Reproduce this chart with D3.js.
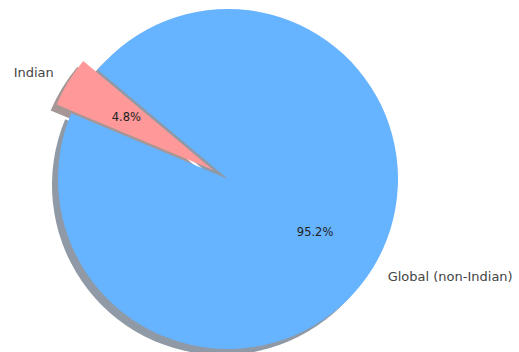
<!DOCTYPE html>
<html><head><meta charset="utf-8">
<script src="https://cdn.jsdelivr.net/npm/d3@7"></script>
<style>html,body{margin:0;padding:0;background:#fff;}</style>
</head><body>
<svg id="c" width="519" height="352"></svg>
<script>
const categories = ["Indian", "Global (non-Indian)"];
const values = [4.8, 95.2];
const colors = ["#ff9999", "#66b3ff"];
const explode = [0.1, 0];
const startAngleDeg = 140; // matplotlib-style, counter-clockwise from +x

const W = 519, H = 352;
const cx = 228, cy = 179, R = 170;
const svg = d3.select("#c");
const g = svg.append("g").attr("transform", `translate(${cx},${cy})`);

const toRad = d => d * Math.PI / 180;
const a0 = toRad(90 - startAngleDeg);
const pie = d3.pie().sort(null).value(d => d.v)
  .startAngle(a0).endAngle(a0 - 2 * Math.PI);
const data = pie(categories.map((c, i) => ({c, v: values[i], i})));
const arc = d3.arc().innerRadius(0).outerRadius(R);

const dir = d => { const m = (d.startAngle + d.endAngle) / 2; return [Math.sin(m), -Math.cos(m)]; };
const off = d => { const [x, y] = dir(d); const e = explode[d.data.i] * R; return [x * e, y * e]; };

// shadows
const shadowCol = c => { const k = d3.rgb(c); return d3.rgb(k.r * 0.3, k.g * 0.3, k.b * 0.3); };
g.selectAll("path.sh").data(data).join("path").attr("class", "sh")
  .attr("d", arc)
  .attr("fill", d => shadowCol(colors[d.data.i]))
  .attr("fill-opacity", 0.5)
  .attr("transform", d => { const [x, y] = off(d); return `translate(${x - 6},${y + 6})`; });

g.selectAll("path.w").data(data).join("path").attr("class", "w")
  .attr("d", arc)
  .attr("fill", d => colors[d.data.i])
  .attr("transform", d => { const [x, y] = off(d); return `translate(${x},${y})`; });

const fmt = d3.format(".1f");
g.selectAll("text.pct").data(data).join("text").attr("class", "pct")
  .attr("x", d => off(d)[0] + dir(d)[0] * 0.6 * R)
  .attr("y", d => off(d)[1] + dir(d)[1] * 0.6 * R)
  .attr("text-anchor", "middle").attr("dominant-baseline", "central")
  .attr("font-family", "DejaVu Sans").attr("font-size", 11.5).attr("fill", "#222")
  .text(d => fmt(d.data.v) + "%");

g.selectAll("text.lab").data(data).join("text").attr("class", "lab")
  .attr("x", d => off(d)[0] + dir(d)[0] * 1.1 * R)
  .attr("y", d => off(d)[1] + dir(d)[1] * 1.1 * R)
  .attr("text-anchor", d => dir(d)[0] > 0 ? "start" : "end")
  .attr("dominant-baseline", "central")
  .attr("font-family", "DejaVu Sans").attr("font-size", 13).attr("fill", "#444")
  .text(d => d.data.c);
</script>
</body></html>
